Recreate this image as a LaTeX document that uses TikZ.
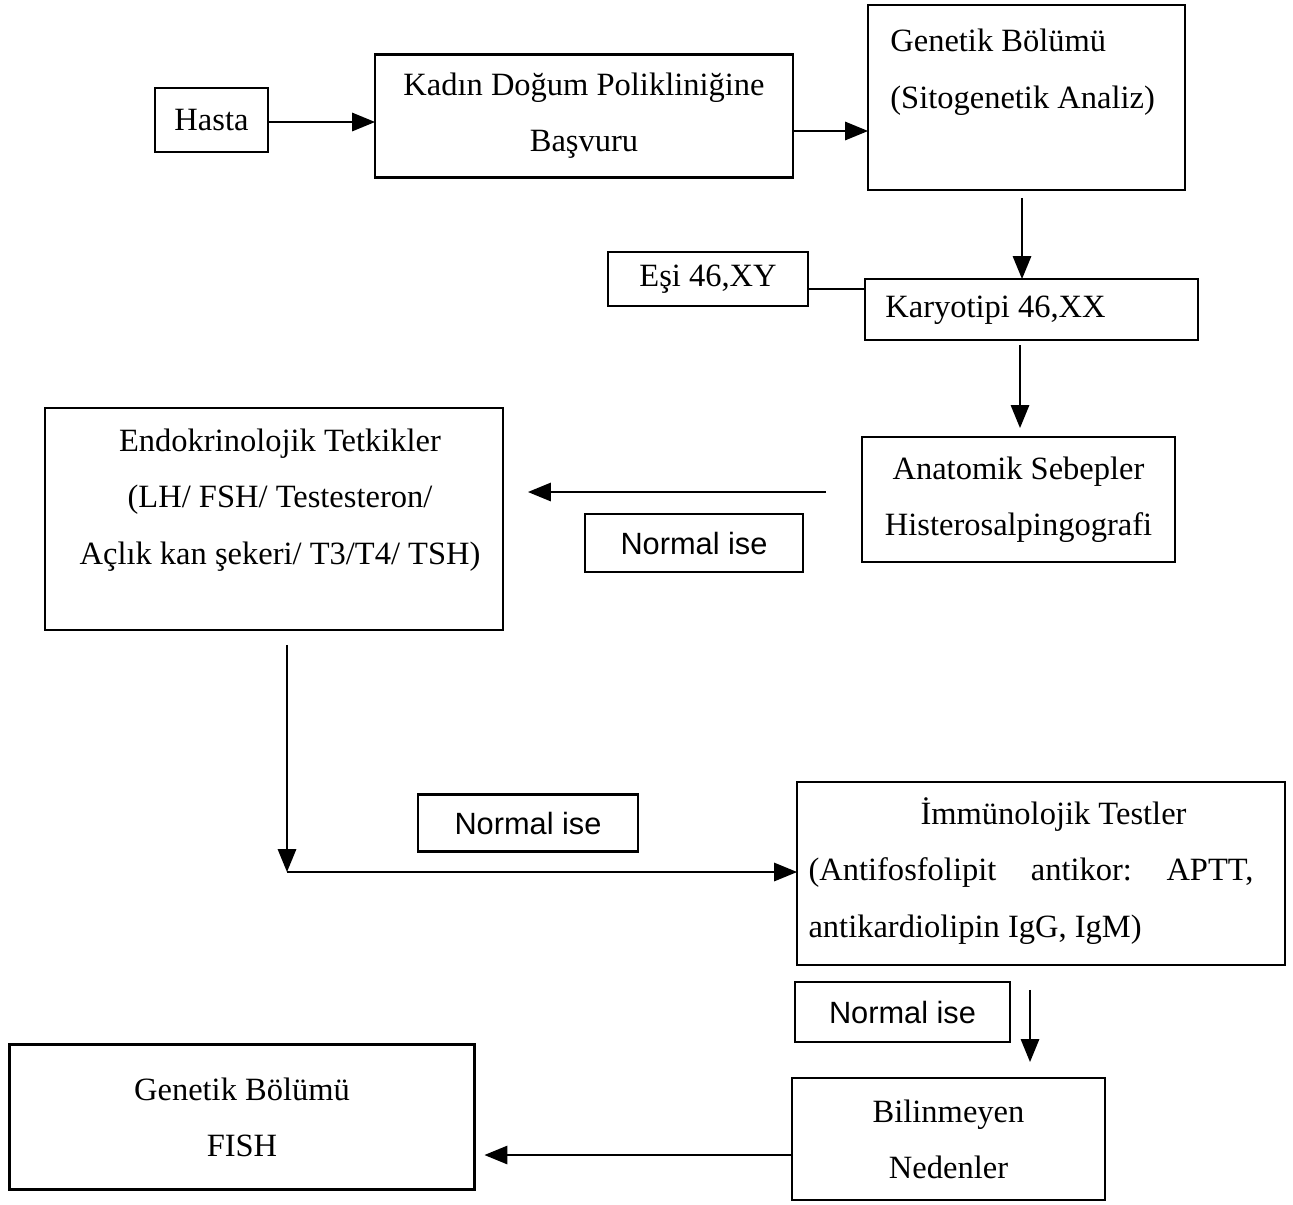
\documentclass[tikz,border=0pt]{standalone}
\usepackage{fontspec}
\setmainfont{Liberation Serif}
\newfontfamily\arialfont{Liberation Sans}
\usepackage{tikz}
\usetikzlibrary{arrows.meta,calc,positioning}
\frenchspacing
\tikzstyle{element}=[
  draw=black,
  line width=1.2pt,
  rectangle,
  inner sep=0pt,
  outer sep=0pt,
  font={\fontsize{18.5}{32}\selectfont},
  align=center,
]
\tikzstyle{boxtext}=[
  inner sep=0pt,
  font={\fontsize{18.5}{32}\selectfont},
]
\tikzstyle{normalbox}=[
  draw=black,
  line width=1.2pt,
  rectangle,
  inner sep=0pt,
  outer sep=0pt,
  font={\arialfont\fontsize{17.5}{20}\selectfont},
]
\tikzstyle{arrow}=[
  draw=black,
  line width=0.9pt,
]
\tikzset{
  >={Triangle[length=0.46cm,width=0.37cm]},
}

\begin{document}
\begin{tikzpicture}[x=0.02cm, y=-0.02cm]
    \useasboundingbox (0,0) rectangle (1293,1204);
    %% top row
    \node (hasta) [element, minimum width=2.26cm, minimum height=1.28cm] at (211.5,120) {Hasta};
    \node (kadin) [element, minimum width=8.36cm, minimum height=2.46cm] at (584,116)
      {Kadın Doğum Polikliniğine\\Başvuru};
    \node (genetik) [element, minimum width=6.34cm, minimum height=3.7cm] at (1026.5,97.5) {};
    \node (genetiktxt) [boxtext, anchor=north west, align=left] at (890,29)
      {Genetik Bölümü\\(Sitogenetik Analiz)};
    %%
    \node (esi) [element, minimum width=4cm, minimum height=1.08cm] at (708,279) {Eşi 46,XY};
    \node (karyo) [element, minimum width=6.66cm, minimum height=1.22cm] at (1031.5,309.5) {};
    \node (karyotxt) [boxtext, anchor=west] at (885,310) {Karyotipi 46,XX};
    %%
    \node (anatomik) [element, minimum width=6.26cm, minimum height=2.5cm] at (1018.5,499.5)
      {Anatomik Sebepler\\Histerosalpingografi};
    \node (normalA) [normalbox, minimum width=4.36cm, minimum height=1.16cm] at (694,543) {Normal ise};
    \node (endo) [element, minimum width=9.16cm, minimum height=4.44cm] at (274,519) {};
    \node (endotxt) [boxtext, align=center] at (280,500)
      {Endokrinolojik Tetkikler\\(LH/ FSH/ Testesteron/\\Açlık kan şekeri/ T3/T4/ TSH)};
    %%
    \node (normalB) [normalbox, minimum width=4.4cm, minimum height=1.14cm] at (528,823) {Normal ise};
    \node (immuno) [element, minimum width=9.76cm, minimum height=3.66cm] at (1041,873.5) {};
    \node (immunotxt) [boxtext, align=left] at (1031,871)
      {\makebox[8.9cm]{\hspace{0.9cm}İmmünolojik Testler}\\
       \makebox[8.9cm][s]{(Antifosfolipit antikor: APTT,}\\
       antikardiolipin IgG, IgM)};
    %%
    \node (normalC) [normalbox, minimum width=4.3cm, minimum height=1.2cm] at (902.5,1012) {Normal ise};
    \node (bilin) [element, minimum width=6.26cm, minimum height=2.44cm] at (948.5,1139)
      {Bilinmeyen\\Nedenler};
    \node (fish) [element, minimum width=9.3cm, minimum height=2.9cm] at (242,1117)
      {Genetik Bölümü\\FISH};
    %% connectors
    \draw [->, arrow] ([yshift=-0.04cm]hasta.east) -- ([yshift=-0.04cm]hasta.east -| kadin.west);
    \coordinate (K) at ([yshift=-0.3cm]kadin.east);
    \draw [->, arrow] (K) -- (K -| genetik.west);
    \coordinate (G) at ([xshift=-0.09cm, yshift=-0.16cm]genetik.south);
    \draw [->, arrow] (G) -- (G |- karyo.north);
    \coordinate (E) at ([yshift=-0.2cm]esi.east);
    \draw [arrow] (E) -- (E -| karyo.west);
    \coordinate (R) at ([xshift=-0.23cm, yshift=-0.1cm]karyo.south);
    \draw [->, arrow] (R) -- ([yshift=0.18cm]R |- anatomik.north);
    \coordinate (A) at ([xshift=-0.72cm, yshift=0.15cm]anatomik.west);
    \draw [->, arrow] (A) -- ([xshift=0.5cm]A -| endo.east);
    \coordinate (turn) at (287,872);
    \draw [->, arrow] ([yshift=-0.3cm]endo.south -| turn) -- (turn);
    \draw [->, arrow] (turn) -- (turn -| immuno.west);
    \coordinate (I) at ([xshift=-0.22cm, yshift=-0.5cm]immuno.south);
    \draw [->, arrow] (I) -- ([yshift=0.32cm]I |- bilin.north);
    \coordinate (B) at ([yshift=-0.32cm]bilin.west);
    \draw [->, arrow] (B) -- ([xshift=0.2cm]B -| fish.east);
\end{tikzpicture}
\end{document}
